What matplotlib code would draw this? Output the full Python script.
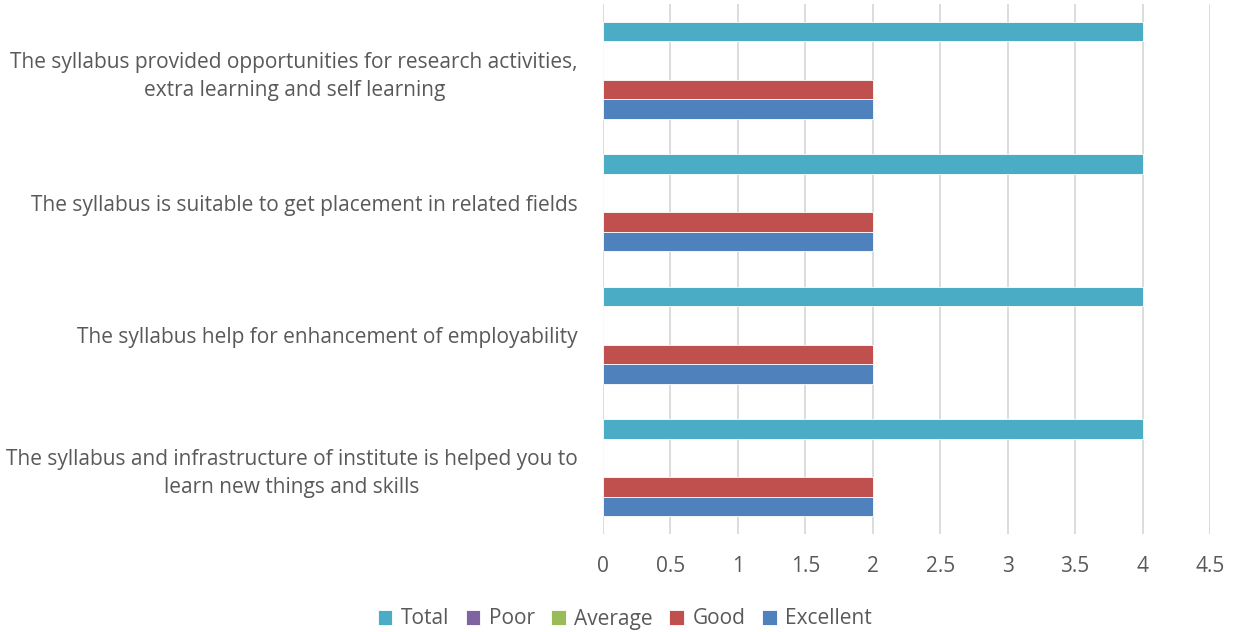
import matplotlib.pyplot as plt
import numpy as np

# categories, bottom to top as drawn
categories = [
    'The syllabus and infrastructure of institute is helped you to\nlearn new things and skills',
    'The syllabus help for enhancement of employability',
    'The syllabus is suitable to get placement in related fields',
    'The syllabus provided opportunities for research activities,\nextra learning and self learning',
]
series_names = ['Excellent', 'Good', 'Average', 'Poor', 'Total']
excellent = [2, 2, 2, 2]
good = [2, 2, 2, 2]
average = [0, 0, 0, 0]
poor = [0, 0, 0, 0]
total = [4, 4, 4, 4]
x_ticks = [0, 0.5, 1, 1.5, 2, 2.5, 3, 3.5, 4, 4.5]
x_tick_labels = ['0', '0.5', '1', '1.5', '2', '2.5', '3', '3.5', '4', '4.5']

colors = ['#4F81BD', '#C0504D', '#9BBB59', '#8064A2', '#4BACC6']
text_color = '#595959'

plt.rcParams['font.family'] = ['Open Sans', 'DejaVu Sans']

fig = plt.figure(figsize=(12.37, 6.32), dpi=100)
ax = fig.add_axes([603 / 1237, 1 - 534 / 632, (1210 - 603) / 1237, 530 / 632])

y = np.arange(len(categories))
bar_h = 0.147
values = [excellent, good, average, poor, total]
for i, (name, vals) in enumerate(zip(series_names, values)):
    offset = (i - 2) * bar_h
    ax.barh(y + offset, vals, height=bar_h, color=colors[i], label=name,
            edgecolor='white', linewidth=0.6, zorder=3)

ax.set_xlim(0, 4.5)
ax.set_ylim(-0.5, len(categories) - 0.5)
ax.set_xticks(x_ticks)
ax.set_xticklabels(x_tick_labels)
ax.set_yticks(y)
ax.set_yticklabels(categories, ha='right', multialignment='center', linespacing=1.45)
ax.tick_params(axis='both', length=0, labelsize=15, colors=text_color)
ax.tick_params(axis='y', pad=18)
ax.tick_params(axis='x', pad=16)
ax.grid(axis='x', color='#D9D9D9', linewidth=1.3, zorder=0)
for s in ax.spines.values():
    s.set_visible(False)

handles, labels = ax.get_legend_handles_labels()
leg = fig.legend(handles[::-1], labels[::-1], loc='center', bbox_to_anchor=(0.505, 1 - 619 / 632),
                 ncol=5, frameon=False, fontsize=15, handlelength=0.7, handleheight=0.7,
                 handletextpad=0.4, columnspacing=0.8)
for t in leg.get_texts():
    t.set_color(text_color)

fig.savefig('out.png', dpi=100)
